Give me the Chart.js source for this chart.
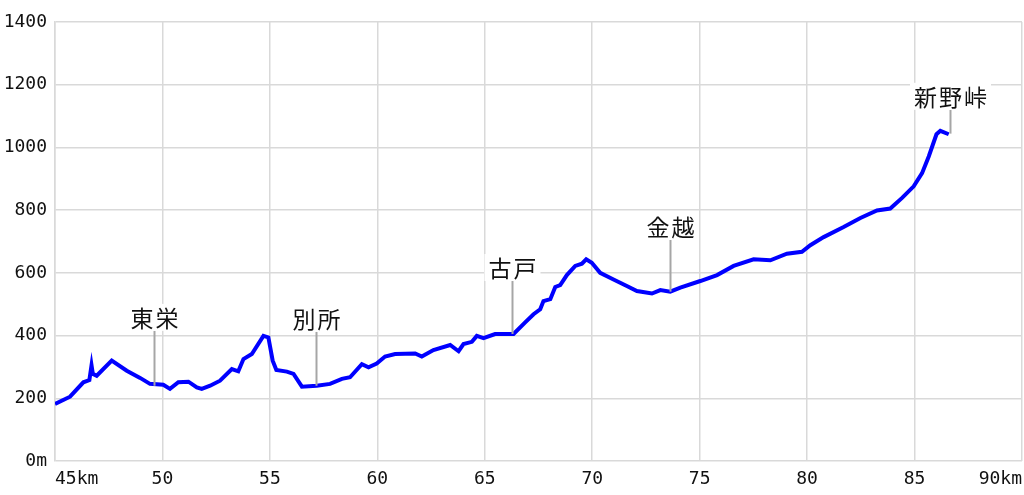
<!DOCTYPE html>
<html>
<head>
<meta charset="utf-8">
<script src="https://cdn.jsdelivr.net/npm/chart.js@4"></script>
<style>
    body { margin: 0; background: #fff; }
    #box { width: 1024px; height: 495px; }
</style>
</head>
<body>
<div id="box"><canvas id="perfil"></canvas></div>
<script>
// distancia (km) e altitude (m)
var distancias = [45.0, 45.7, 46.32, 46.6, 46.7, 46.76, 46.94, 47.64, 48.34, 48.96, 49.42, 50.04, 50.35, 50.74, 51.21, 51.6, 51.83, 52.22, 52.68, 53.23, 53.53, 53.77, 54.16, 54.7, 54.93, 55.13, 55.3, 55.79, 56.1, 56.49, 57.18, 57.8, 58.35, 58.73, 59.28, 59.59, 59.97, 60.36, 60.83, 61.76, 62.07, 62.61, 63.39, 63.78, 64.01, 64.4, 64.63, 64.94, 65.48, 66.34, 66.88, 67.27, 67.58, 67.73, 68.05, 68.28, 68.51, 68.82, 69.21, 69.52, 69.72, 69.98, 70.37, 70.99, 71.61, 72.08, 72.78, 73.17, 73.63, 74.1, 75.03, 75.81, 76.58, 77.51, 78.29, 79.06, 79.76, 80.15, 80.77, 81.7, 82.48, 83.25, 83.87, 84.42, 84.96, 85.35, 85.66, 86.02, 86.2, 86.59];
var altitudes = [182, 205, 251, 258, 305, 278, 272, 320, 288, 265, 246, 243, 230, 251, 253, 235, 230, 240, 256, 293, 286, 325, 341, 399, 394, 320, 290, 285, 278, 237, 240, 246, 262, 267, 309, 299, 311, 333, 341, 343, 333, 354, 370, 350, 373, 380, 399, 392, 405, 405, 442, 468, 484, 510, 516, 555, 561, 593, 622, 629, 643, 632, 600, 579, 558, 542, 534, 545, 540, 553, 574, 593, 622, 643, 640, 661, 667, 688, 714, 746, 775, 799, 805, 839, 876, 918, 971, 1042, 1053, 1042];

// pontos marcados
var lugares = ['東栄', '別所', '古戸', '金越', '新野峠'];
var lugaresKm = [49.62, 57.14, 66.26, 73.63, 86.63];
var lugaresBase = [240, 240, 405, 540, 1044];
var lugaresTopo = [415, 412, 574, 705, 1120];

var ticksX = [45, 50, 55, 60, 65, 70, 75, 80, 85, 90];
var ticksY = [0, 200, 400, 600, 800, 1000, 1200, 1400];

var pontos = distancias.map(function (d, i) {
    return { x: d, y: altitudes[i] };
});

var fonteNum = '"DejaVu Sans Mono", monospace';
var corGrade = '#d9d9d9';

var marcadores = {
    id: 'marcadores',
    afterDatasetsDraw: function (chart) {
        var ctx = chart.ctx;
        var sx = chart.scales.x;
        var sy = chart.scales.y;
        ctx.save();
        ctx.font = '23px "Noto Sans CJK JP", sans-serif';
        ctx.letterSpacing = '2px';
        ctx.textAlign = 'center';
        ctx.textBaseline = 'middle';
        lugares.forEach(function (nome, i) {
            var px = Math.round(sx.getPixelForValue(lugaresKm[i])) + 0.5;
            var yTopo = sy.getPixelForValue(lugaresTopo[i]);
            var yBase = sy.getPixelForValue(lugaresBase[i]);
            ctx.strokeStyle = '#a6a6a6';
            ctx.lineWidth = 2;
            ctx.beginPath();
            ctx.moveTo(px, yTopo);
            ctx.lineTo(px, yBase);
            ctx.stroke();

            var w = ctx.measureText(nome).width;
            var cy = yTopo - 13;
            ctx.fillStyle = '#fff';
            ctx.fillRect(px - w / 2 - 3, cy - 14, w + 6, 27);
            ctx.fillStyle = '#111';
            ctx.fillText(nome, px + 1, cy);
        });
        ctx.restore();
    }
};

new Chart(document.getElementById('perfil'), {
    type: 'line',
    data: {
        datasets: [{
            data: pontos,
            borderColor: '#0000ff',
            borderWidth: 4,
            pointRadius: 0,
            tension: 0,
            fill: false
        }]
    },
    options: {
        responsive: true,
        maintainAspectRatio: false,
        animation: false,
        layout: {
            padding: { top: 22, right: 2, bottom: 0, left: 0 }
        },
        plugins: {
            legend: { display: false },
            tooltip: { enabled: false }
        },
        scales: {
            x: {
                type: 'linear',
                min: 45,
                max: 90,
                afterBuildTicks: function (scale) {
                    scale.ticks = ticksX.map(function (v) { return { value: v }; });
                },
                afterFit: function (scale) {
                    scale.height = 34;
                    scale.paddingLeft = 0;
                    scale.paddingRight = 0;
                },
                ticks: {
                    align: 'inner',
                    padding: 8,
                    color: '#111',
                    font: { family: fonteNum, size: 18 },
                    maxRotation: 0,
                    callback: function (v) {
                        return (v === 45 || v === 90) ? v + 'km' : String(v);
                    }
                },
                grid: { color: corGrade, lineWidth: 1.5, drawTicks: false },
                border: { display: false }
            },
            y: {
                min: 0,
                max: 1400,
                afterBuildTicks: function (scale) {
                    scale.ticks = ticksY.map(function (v) { return { value: v }; });
                },
                afterFit: function (scale) {
                    scale.width = 55;
                },
                ticks: {
                    padding: 8,
                    color: '#111',
                    font: { family: fonteNum, size: 18 },
                    callback: function (v) {
                        return v === 0 ? '0m' : String(v);
                    }
                },
                grid: { color: corGrade, lineWidth: 1.5, drawTicks: false },
                border: { color: corGrade, width: 1.5 }
            }
        }
    },
    plugins: [marcadores]
});
</script>
</body>
</html>
